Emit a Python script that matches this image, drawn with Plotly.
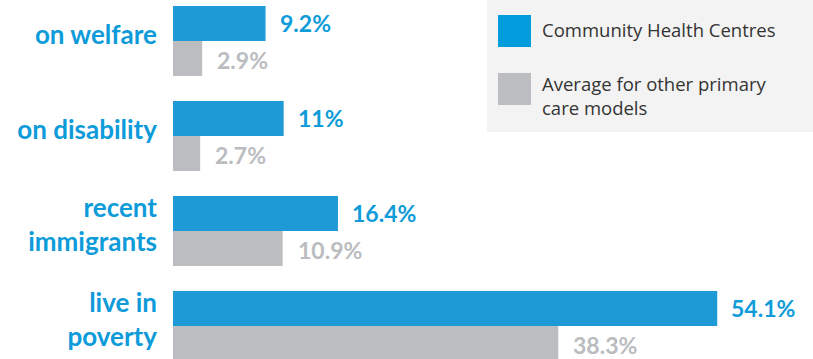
import plotly.graph_objects as go

categories = ["on welfare", "on disability", "recent<br>immigrants", "live in<br>poverty"]
chc_values = [9.2, 11, 16.4, 54.1]
other_values = [2.9, 2.7, 10.9, 38.3]
series_names = ["Community Health Centres", "Average for other primary<br>care models"]

BLUE = "#1E9AD6"
BLUE_TXT = "#0E9BD9"
GRAY = "#BCBDC0"
GRAY_TXT = "#BBBCBF"
FONT = "Lato"

pos = list(range(len(categories)))
bargap = 0.263
half = (1 - bargap) / 4

fig = go.Figure()
fig.add_trace(go.Bar(y=pos, x=chc_values, orientation="h", marker=dict(color=BLUE, line=dict(width=0)),
                     name=series_names[0]))
fig.add_trace(go.Bar(y=pos, x=other_values, orientation="h", marker=dict(color=GRAY, line=dict(width=0)),
                     name=series_names[1]))

ann = []
for i, (a, b) in enumerate(zip(chc_values, other_values)):
    ann.append(dict(x=a, y=i - half, xref="x", yref="y", text=f"{a:g}%", showarrow=False,
                    xanchor="left", xshift=12, yshift=1,
                    font=dict(family=FONT, size=23, color=BLUE_TXT, weight="bold")))
    ann.append(dict(x=b, y=i + half, xref="x", yref="y", text=f"{b:g}%", showarrow=False,
                    xanchor="left", xshift=13, yshift=-1,
                    font=dict(family=FONT, size=23, color=GRAY_TXT, weight="bold")))

# legend box (paper coords relative to plot area)
W, H = 813, 359
L = 173
def px(x):
    return (x - L) / (W - L)
def py(y):
    return 1 - y / H

shapes = [
    dict(type="rect", xref="paper", yref="paper", x0=px(487), x1=px(813), y0=py(132), y1=py(0),
         fillcolor="#F3F3F3", line=dict(width=0), layer="below"),
    dict(type="rect", xref="paper", yref="paper", x0=px(498), x1=px(531), y0=py(47), y1=py(15),
         fillcolor="#009CDB", line=dict(width=0)),
    dict(type="rect", xref="paper", yref="paper", x0=px(498), x1=px(531), y0=py(105), y1=py(73),
         fillcolor=GRAY, line=dict(width=0)),
]
ann.append(dict(x=px(540), y=py(30), xref="paper", yref="paper", text=series_names[0], showarrow=False,
                xanchor="left", yanchor="middle", align="left",
                font=dict(family="Open Sans", size=18.5, color="#333333")))
ann.append(dict(x=px(540), y=py(95), xref="paper", yref="paper", text=series_names[1], showarrow=False,
                xanchor="left", yanchor="middle", align="left",
                font=dict(family="Open Sans", size=18.5, color="#333333")))

fig.update_layout(
    width=W, height=H,
    margin=dict(l=L, r=0, t=0, b=0),
    barmode="group", bargap=bargap, bargroupgap=0,
    plot_bgcolor="white", paper_bgcolor="white",
    showlegend=False,
    shapes=shapes, annotations=ann,
    xaxis=dict(range=[0, 640 / 10.06], visible=False, fixedrange=True),
    yaxis=dict(range=[3.347, -0.4316], tickmode="array", tickvals=pos, ticktext=categories,
               showgrid=False, zeroline=False, showline=False, ticks="",
               ticklabelstandoff=15, ticklabelshift=6,
               tickfont=dict(family=FONT, size=26, color=BLUE_TXT, weight="bold")),
)

fig.write_html("out.html")
